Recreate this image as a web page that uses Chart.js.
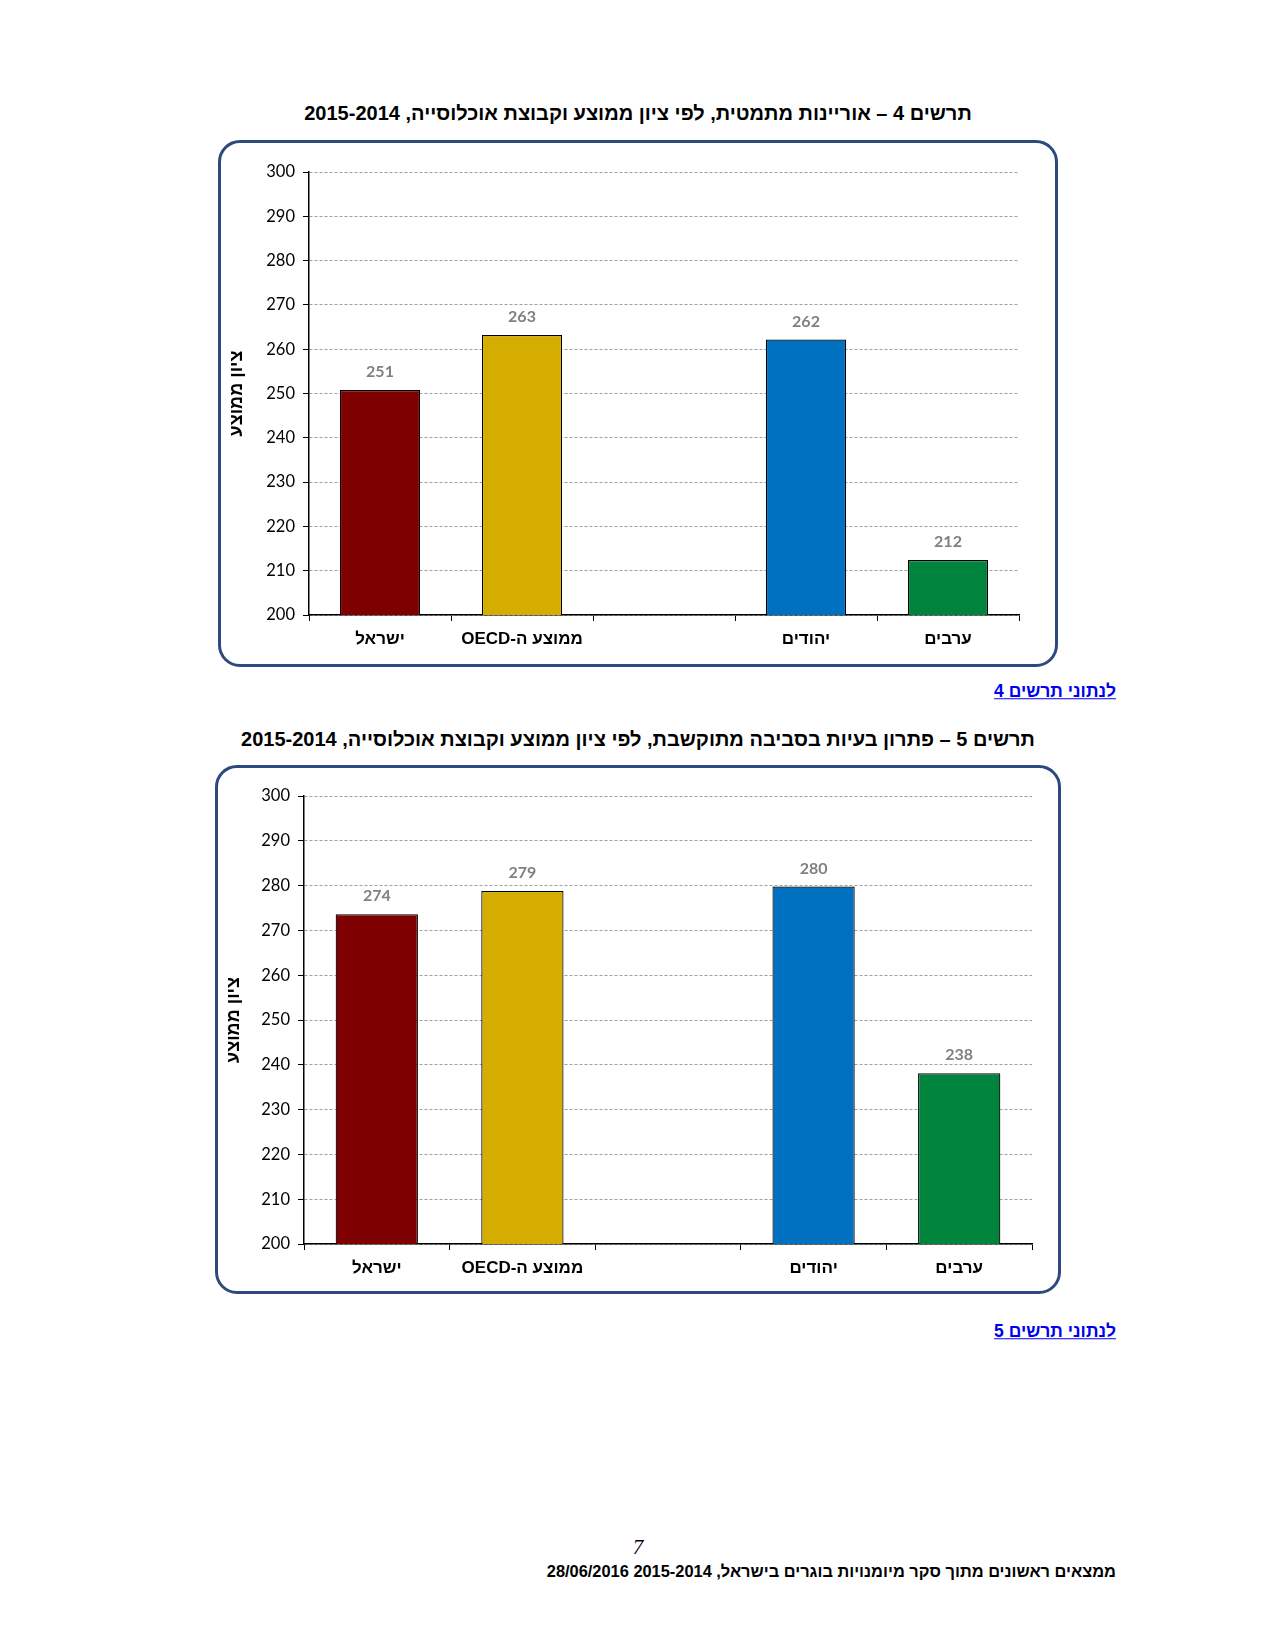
<!DOCTYPE html>
<html lang="he">
<head>
<meta charset="utf-8">
<title>תרשים 4 ו-5</title>
<script src="https://cdn.jsdelivr.net/npm/chart.js@4/dist/chart.umd.min.js"></script>
<style>
    html, body { margin: 0; padding: 0; background: #fff; }
    body { width: 1275px; height: 1650px; position: relative; overflow: hidden; }
    .abs { position: absolute; line-height: 1; white-space: nowrap; }
    .chart-title {
        font-family: 'Liberation Sans', Arial, sans-serif;
        font-weight: bold; font-size: 20px; color: #000;
        transform: translate(-50%, -50%);
    }
    .data-link {
        font-family: 'Liberation Sans', Arial, sans-serif;
        font-weight: bold; font-size: 17.5px; color: #0000ee;
        text-decoration: underline; transform: translate(-100%, -50%);
    }
    .chart-box {
        position: absolute; box-sizing: border-box;
        border: 3px solid #2c4a7c; border-radius: 22px; background: #fff;
    }
    .chart-box .holder { position: absolute; left: 0; top: 0; right: 0; bottom: 0; }
    .page-num {
        font-family: 'Liberation Serif', 'Times New Roman', serif;
        font-style: italic; font-size: 21px; transform: translate(-50%, -50%);
    }
    .footer {
        font-family: 'Liberation Sans', Arial, sans-serif;
        font-weight: bold; font-size: 16.4px; transform: translate(-100%, -50%);
    }
</style>
</head>
<body>

<div class="abs chart-title" dir="rtl" style="left:638px; top:113px;">תרשים 4 – אוריינות מתמטית, לפי ציון ממוצע וקבוצת אוכלוסייה, 2015-2014</div>
<div class="chart-box" style="left:218px; top:140px; width:840px; height:527px;">
    <div class="holder"><canvas id="chart4" dir="rtl"></canvas></div>
</div>
<div class="abs data-link" dir="rtl" style="left:1116px; top:692px;">לנתוני תרשים 4</div>

<div class="abs chart-title" dir="rtl" style="left:638px; top:739px;">תרשים 5 – פתרון בעיות בסביבה מתוקשבת, לפי ציון ממוצע וקבוצת אוכלוסייה, 2015-2014</div>
<div class="chart-box" style="left:215px; top:765px; width:846px; height:529px;">
    <div class="holder"><canvas id="chart5" dir="rtl"></canvas></div>
</div>
<div class="abs data-link" dir="rtl" style="left:1116px; top:1332px;">לנתוני תרשים 5</div>

<div class="abs page-num" style="left:638px; top:1547px;">7</div>
<div class="abs footer" dir="rtl" style="left:1116px; top:1571px;">ממצאים ראשונים מתוך סקר מיומנויות בוגרים בישראל, 2015-2014 28/06/2016</div>

<script>
// קטגוריות (העמודה הריקה היא רווח בין הקבוצות)
const categories = ['ישראל', 'ממוצע ה-OECD', '', 'יהודים', 'ערבים'];
const barColors = ['#7f0000', '#d5ad00', null, '#0070c0', '#00843d'];

// ציון ממוצע
const numeracyScores = [250.8, 263.2, null, 262.2, 212.4];
const problemSolvingScores = [273.6, 278.8, null, 279.8, 238.1];

const yMin = 200;
const yMax = 300;
const yStep = 10;
const yTitle = 'ציון ממוצע';

const labelFont = "Lato, 'Liberation Sans', sans-serif";
const hebrewFont = "'Liberation Sans', Arial, sans-serif";

// תוויות ערך מעל העמודות
const valueLabels = {
    id: 'valueLabels',
    afterDatasetsDraw(chart) {
        const ctx = chart.ctx;
        const meta = chart.getDatasetMeta(0);
        const data = chart.data.datasets[0].data;
        ctx.save();
        ctx.font = 'bold 16px ' + labelFont;
        ctx.fillStyle = '#808080';
        ctx.textAlign = 'center';
        ctx.textBaseline = 'middle';
        meta.data.forEach((bar, i) => {
            if (data[i] == null) return;
            const p = bar.getProps(['x', 'y'], true);
            ctx.fillText(String(Math.round(data[i])), p.x, p.y - 18);
        });
        ctx.restore();
    }
};

function makeChart(canvasId, values, geo) {
    const ctx = document.getElementById(canvasId).getContext('2d');
    return new Chart(ctx, {
        type: 'bar',
        data: {
            labels: categories,
            datasets: [{
                data: values,
                backgroundColor: barColors,
                borderColor: '#000',
                borderWidth: 1.2,
                borderSkipped: 'bottom',
                categoryPercentage: 1,
                barPercentage: 0.565
            }]
        },
        options: {
            responsive: true,
            maintainAspectRatio: false,
            animation: false,
            layout: { padding: { left: 0, right: geo.right, top: geo.top, bottom: 0 } },
            plugins: { legend: { display: false }, tooltip: { enabled: false } },
            scales: {
                x: {
                    afterFit: (s) => { s.height = geo.xHeight; },
                    grid: {
                        offset: true,
                        drawOnChartArea: false,
                        drawTicks: true,
                        tickLength: 6,
                        color: '#000'
                    },
                    border: { color: '#000', width: 1.5 },
                    ticks: {
                        color: '#000',
                        padding: 8,
                        font: { family: hebrewFont, size: 17, weight: 'bold' }
                    }
                },
                y: {
                    min: yMin,
                    max: yMax,
                    afterFit: (s) => { s.width = geo.yWidth; },
                    grid: {
                        color: '#a0a0a0',
                        lineWidth: 1,
                        tickLength: 6,
                        tickColor: '#000',
                        tickBorderDash: [],
                        tickWidth: 1
                    },
                    border: { color: '#000', width: 1.5, dash: [3, 2] },
                    ticks: {
                        stepSize: yStep,
                        color: '#000',
                        padding: 8,
                        font: { family: labelFont, size: 16.5 }
                    },
                    title: {
                        display: true,
                        text: yTitle,
                        color: '#000',
                        padding: { top: 5, bottom: 0 },
                        font: { family: hebrewFont, size: 18, weight: 'bold' }
                    }
                }
            }
        },
        plugins: [valueLabels]
    });
}

makeChart('chart4', numeracyScores, { yWidth: 88, right: 36, top: 29, xHeight: 49 });
makeChart('chart5', problemSolvingScores, { yWidth: 86, right: 26, top: 28, xHeight: 47 });
</script>
</body>
</html>
